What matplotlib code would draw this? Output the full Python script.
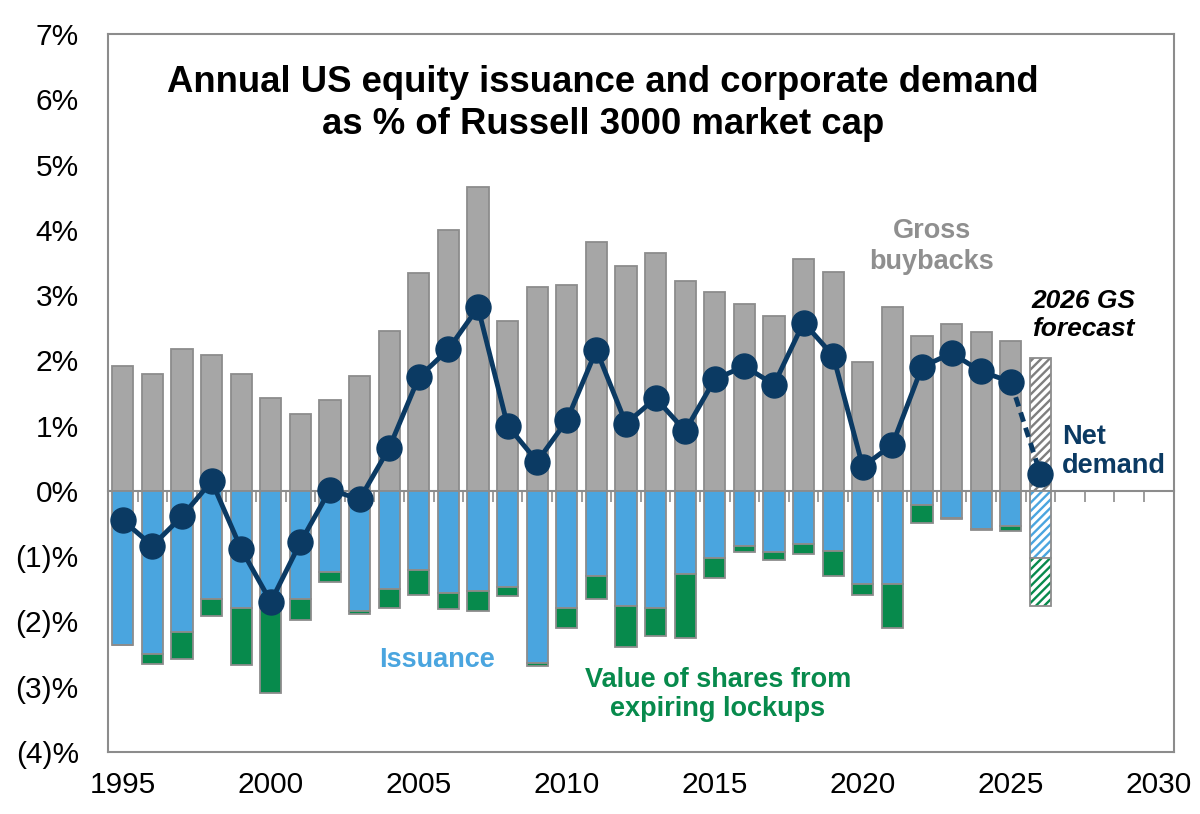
import numpy as np
import matplotlib
matplotlib.use("Agg")
import matplotlib.pyplot as plt

# values (% of Russell 3000 market cap)
years = list(range(1995, 2027))
gross_buybacks = [1.92, 1.79, 2.18, 2.08, 1.79, 1.42, 1.18, 1.40, 1.76, 2.45,
                  3.34, 4.00, 4.65, 2.60, 3.13, 3.16, 3.82, 3.45, 3.65, 3.21,
                  3.05, 2.87, 2.68, 3.55, 3.36, 1.98, 2.82, 2.37, 2.55, 2.44,
                  2.29, 2.04]
issuance = [2.36, 2.50, 2.16, 1.66, 1.80, 1.80, 1.66, 1.24, 1.84, 1.51,
            1.21, 1.56, 1.53, 1.48, 2.64, 1.79, 1.31, 1.77, 1.79, 1.28,
            1.03, 0.84, 0.93, 0.82, 0.92, 1.43, 1.43, 0.21, 0.42, 0.59,
            0.54, 1.03]
lockups = [0.00, 0.15, 0.41, 0.25, 0.87, 1.30, 0.32, 0.15, 0.05, 0.28,
           0.39, 0.25, 0.31, 0.13, 0.04, 0.31, 0.34, 0.62, 0.44, 0.98,
           0.31, 0.10, 0.13, 0.15, 0.39, 0.17, 0.67, 0.28, 0.01, 0.01,
           0.07, 0.74]
net_demand = [-0.45, -0.84, -0.39, 0.15, -0.89, -1.70, -0.79, 0.02, -0.13, 0.66,
              1.74, 2.17, 2.81, 1.00, 0.45, 1.08, 2.16, 1.03, 1.42, 0.92,
              1.71, 1.91, 1.63, 2.58, 2.07, 0.37, 0.71, 1.90, 2.11, 1.83,
              1.67, 0.26]
forecast_year = 2026

y_ticks = list(range(-4, 8))
y_labels = [f"({-v})%" if v < 0 else f"{v}%" for v in y_ticks]
x_ticks = list(range(1995, 2031, 5))

GRAY = "#A6A6A6"
EDGE = "#8C8C8C"
BLUE = "#4AA5DF"
GREEN = "#078A4C"
NAVY = "#0B3A63"

plt.rcParams["font.family"] = ["Liberation Sans", "DejaVu Sans"]
plt.rcParams["hatch.linewidth"] = 1.7

fig = plt.figure(figsize=(12, 8.14), dpi=100)
ax = fig.add_axes([0.09, 0.0762, 0.888, 0.8820])

yrs = np.array(years)
gb = np.array(gross_buybacks)
iss = -np.array(issuance)
lk = -np.array(lockups)
hist = yrs < forecast_year
fc = ~hist
w = 0.72

# history bars
ax.bar(yrs[hist], gb[hist], w, color=GRAY, edgecolor=EDGE, lw=1.3, zorder=2)
ax.bar(yrs[hist], iss[hist], w, color=BLUE, edgecolor=EDGE, lw=1.3, zorder=2)
ax.bar(yrs[hist], lk[hist], w, bottom=iss[hist], color=GREEN, edgecolor=EDGE,
       lw=1.3, zorder=2)

# forecast bars, hatched
for vals, bot, col in [(gb[fc], 0, "#7F7F7F"), (iss[fc], 0, BLUE),
                       (lk[fc], iss[fc], GREEN)]:
    ax.bar(yrs[fc], vals, w, bottom=bot, color="white", edgecolor=col,
           hatch="////", lw=0, zorder=2)
    ax.bar(yrs[fc], vals, w, bottom=bot, color="none", edgecolor=EDGE,
           lw=1.3, zorder=2)

# net demand line
nd = np.array(net_demand)
ax.plot(yrs[hist], nd[hist], color=NAVY, lw=3.5, marker="o", ms=18,
        zorder=4)
ax.plot(yrs[-2:], nd[-2:], color=NAVY, lw=3.5, ls=(0, (2, 1.3)), zorder=4)
ax.plot(yrs[fc], nd[fc], color=NAVY, ls="none", marker="o", ms=18, zorder=4)

ax.set_xlim(1994.5, 2030.5)
ax.set_ylim(-4, 7)
ax.set_yticks(y_ticks)
ax.set_yticklabels(y_labels)
ax.set_xticks(x_ticks)
ax.tick_params(axis="both", length=0, labelsize=21.5)
ax.tick_params(axis="y", pad=21)
ax.tick_params(axis="x", pad=14)
for s in ax.spines.values():
    s.set_color("#8C8C8C")
    s.set_linewidth(1.5)

# zero line with category ticks
zero = ax.secondary_xaxis(4 / 11)
zero.set_xticks(np.arange(1994.5, 2030.5, 1))
zero.tick_params(direction="out", length=8, width=1.2, color="#8C8C8C",
                 labelbottom=False)
zero.spines["bottom"].set_color("#8C8C8C")
zero.spines["bottom"].set_linewidth(1.5)

ax.text(2011.23, 5.93, "Annual US equity issuance and corporate demand\n"
        "as % of Russell 3000 market cap", ha="center", va="center",
        fontsize=26.3, fontweight="bold", linespacing=1.25)
ax.text(2022.33, 3.75, "Gross\nbuybacks", ha="center", va="center",
        fontsize=19.5, fontweight="bold", color="#8F8F8F", linespacing=1.25)
ax.text(2025.71, 2.70, "2026 GS\nforecast", ha="left", va="center",
        fontsize=19, fontweight="bold", style="italic", linespacing=1.2)
ax.text(2026.72, 0.60, "Net\ndemand", ha="left", va="center",
        fontsize=19.5, fontweight="bold", color=NAVY, linespacing=1.15)
ax.text(2005.63, -2.59, "Issuance", ha="center", va="center",
        fontsize=19.5, fontweight="bold", color=BLUE)
ax.text(2015.1, -3.12, "Value of shares from\nexpiring lockups", ha="center",
        va="center", fontsize=19.5, fontweight="bold", color=GREEN,
        linespacing=1.15)

fig.savefig("out.png", dpi=100)
